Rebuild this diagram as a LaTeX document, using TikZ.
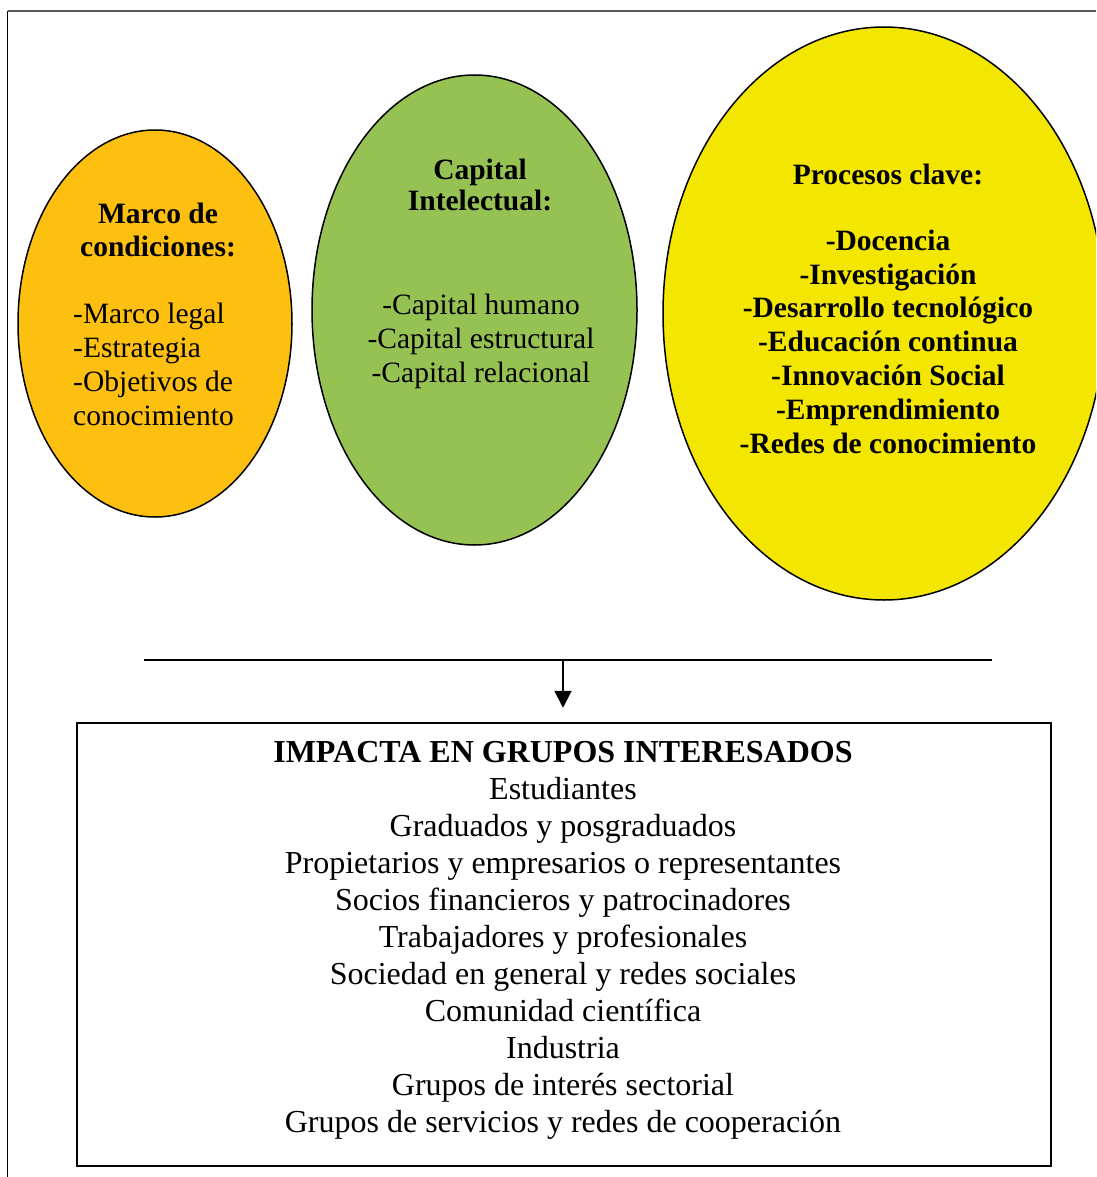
\documentclass[tikz,border=0pt]{standalone}
\usepackage{fontspec}
\setmainfont{Liberation Serif}
\usetikzlibrary{shapes.geometric,arrows.meta}

\definecolor{marcoorange}{RGB}{253,192,16}
\definecolor{capgreen}{RGB}{150,194,84}
\definecolor{procyellow}{RGB}{243,230,0}

\tikzset{
  bubble/.style={ellipse, draw=black, line width=1.5pt, inner sep=0pt},
  bodytext/.style={inner sep=0pt, font=\fontsize{29.5}{34}\selectfont},
  headtext/.style={inner sep=0pt, font=\fontsize{29.5}{33}\selectfont\bfseries},
  boxtext/.style={inner sep=0pt, font=\fontsize{32}{37}\selectfont},
}

\begin{document}
\begin{tikzpicture}[x=1pt,y=-1pt]
  \useasboundingbox (0,0) rectangle (1096,1177);
  \clip (0,0) rectangle (1096,1177);

  % page frame
  \draw[gray!70!black, line width=1.2pt] (7.5,11) -- (1096,11);
  \draw[black, line width=1.5pt] (7.5,11) -- (7.5,1177);

  % three bubbles
  \node[bubble, fill=marcoorange, minimum width=274pt, minimum height=387pt] (marco) at (155,323.5) {};
  \node[bubble, fill=capgreen, minimum width=325pt, minimum height=470pt] (capital) at (474.5,310) {};
  \node[bubble, fill=procyellow, minimum width=442pt, minimum height=573pt] (procesos) at (884,313.5) {};

  % bubble texts (anchored on the baseline of their last line)
  \node[headtext, anchor=base, align=center] (marcotitle) at (158,256) {Marco de\\condiciones:};
  \node[bodytext, anchor=base west, align=left] (marcoitems) at (73,425) {-Marco legal\\-Estrategia\\-Objetivos de\\conocimiento};

  \node[headtext, anchor=base, align=center, font=\fontsize{29.5}{32}\selectfont\bfseries] (captitle) at (480,211) {Capital\\Intelectual:};
  \node[bodytext, anchor=base, align=center] (capitems) at (481,382) {-Capital humano\\-Capital estructural\\-Capital relacional};

  \node[headtext, anchor=base, align=center] (proctitle) at (888,185) {Procesos clave:};
  \node[bodytext, anchor=base, align=center, font=\fontsize{29.5}{33.8}\selectfont\bfseries] (procitems) at (888,453) {-Docencia\\-Investigación\\-Desarrollo tecnológico\\-Educación continua\\-Innovación Social\\-Emprendimiento\\-Redes de conocimiento};

  % joining line and arrow
  \coordinate (joinL) at (144,660);
  \coordinate (joinR) at (992,660);
  \coordinate (joinM) at (563,660);
  \draw[line width=2pt] (joinL) -- (joinR);

  % stakeholder box
  \node[draw=black, line width=2.5pt, minimum width=974pt, minimum height=443pt, inner sep=0pt] (impacto) at (564,944.5) {};
  \draw[line width=2pt, -{Triangle[width=17pt,length=17pt]}] (joinM) -- ([yshift=14pt]impacto.north -| joinM);

  \node[boxtext, anchor=base, align=center] (impactotext) at (563,1132) {\textbf{IMPACTA EN GRUPOS INTERESADOS}\\Estudiantes\\Graduados y posgraduados\\Propietarios y empresarios o representantes\\Socios financieros y patrocinadores\\Trabajadores y profesionales\\Sociedad en general y redes sociales\\Comunidad científica\\Industria\\Grupos de interés sectorial\\Grupos de servicios y redes de cooperación};
\end{tikzpicture}
\end{document}
